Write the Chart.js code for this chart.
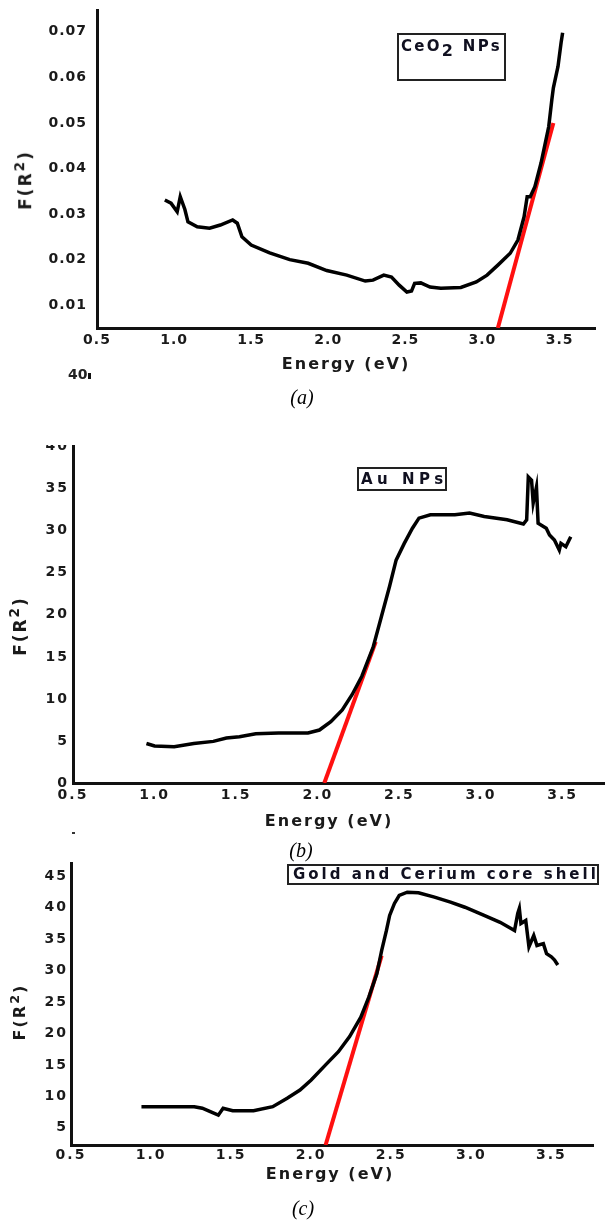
<!DOCTYPE html>
<html>
<head>
<meta charset="utf-8">
<script src="https://cdn.jsdelivr.net/npm/chart.js@4/dist/chart.umd.min.js"></script>
<style>
  body { margin: 0; background: #fff; width: 605px; height: 1221px; position: relative; overflow: hidden; font-family: "DejaVu Sans", sans-serif; }
  canvas { position: absolute; left: 0; }
  .ytitle, .xtitle, .box, .cap, .stray { position: absolute; white-space: nowrap; }
  .ytitle { font-weight: bold; font-size: 17px; letter-spacing: 2px; color: #1a1a1a; transform: translate(-50%, -50%) rotate(-90deg); }
  .ytitle sup { font-size: 80%; }
  .xtitle { font-weight: bold; font-size: 16px; letter-spacing: 2px; color: #1a1a1a; transform: translate(-50%, -50%); }
  .box { border: 2px solid #222; box-sizing: border-box; font-weight: bold; color: #101020; }
  .cap { font-family: "Liberation Serif", serif; font-style: italic; font-size: 20px; transform: translate(-50%, -50%); }
</style>
</head>
<body>
<canvas id="chart-a" width="605" height="350" style="top:9px"></canvas>
<canvas id="chart-b" width="605" height="370" style="top:445px"></canvas>
<canvas id="chart-c" width="605" height="310" style="top:862px"></canvas>

<div class="ytitle" style="left:23px; top:180px">F(R<sup>2</sup>)</div>
<div class="xtitle" style="left:346px; top:363px">Energy (eV)</div>
<div class="box" style="left:397px; top:33px; width:109px; height:48px; font-size:15px; letter-spacing:2.3px; padding:1px 0 0 2px">CeO<span style="font-size:16px; position:relative; top:5px">2</span> NPs</div>
<div class="stray" style="left:68px; top:366px; font-weight:bold; font-size:14px; color:#222">40<span style="display:inline-block; width:3px; height:6px; background:#111; margin-left:1px"></span></div>
<div class="cap" style="left:302px; top:397px">(a)</div>

<div class="ytitle" style="left:18px; top:626px">F(R<sup>2</sup>)</div>
<div class="xtitle" style="left:329px; top:820px">Energy (eV)</div>
<div class="box" style="left:357px; top:467px; width:90px; height:24px; font-size:15px; letter-spacing:4.5px; padding:1px 0 0 2px">Au NPs</div>
<div class="stray" style="left:72px; top:832px; width:3px; height:2px; background:#333"></div>
<div class="cap" style="left:301px; top:850px">(b)</div>

<div class="ytitle" style="left:18px; top:1012px; font-size:16px">F(R<sup>2</sup>)</div>
<div class="xtitle" style="left:330px; top:1173px">Energy (eV)</div>
<div class="box" style="left:287px; top:864px; width:312px; height:21px; font-size:15px; letter-spacing:3px; padding:0 0 0 4px; line-height:17px">Gold and Cerium core shell</div>
<div class="cap" style="left:303px; top:1208px">(c)</div>

<script>
// shared tick positions
const energyTicks = [0.5, 1.0, 1.5, 2.0, 2.5, 3.0, 3.5];

// (a) CeO2 NPs
const energyA = [0.94, 0.98, 1.02, 1.04, 1.07, 1.09, 1.15, 1.23, 1.30, 1.38, 1.41, 1.44, 1.50, 1.62, 1.75, 1.87, 1.99, 2.12, 2.24, 2.29, 2.36, 2.41, 2.46, 2.51, 2.54, 2.56, 2.60, 2.66, 2.73, 2.86, 2.96, 3.03, 3.10, 3.18, 3.23, 3.27, 3.29, 3.31, 3.34, 3.38, 3.43, 3.45, 3.46, 3.49, 3.51, 3.52];
const fA = [0.0331, 0.0324, 0.0305, 0.0338, 0.0310, 0.0283, 0.0272, 0.0269, 0.0276, 0.0287, 0.0280, 0.0250, 0.0232, 0.0215, 0.0200, 0.0192, 0.0176, 0.0166, 0.0153, 0.0155, 0.0166, 0.0162, 0.0144, 0.0129, 0.0131, 0.0148, 0.0149, 0.0140, 0.0137, 0.0139, 0.0151, 0.0166, 0.0188, 0.0214, 0.0243, 0.0294, 0.0338, 0.0338, 0.0360, 0.0412, 0.0492, 0.0551, 0.0577, 0.0624, 0.0676, 0.0698];
const fitEnergyA = [3.10, 3.46];
const fitA = [0.005, 0.050];
const yTicksA = [0.01, 0.02, 0.03, 0.04, 0.05, 0.06, 0.07];

// (b) Au NPs
const energyB = [0.95, 1.00, 1.12, 1.24, 1.36, 1.44, 1.52, 1.62, 1.76, 1.94, 2.01, 2.08, 2.15, 2.21, 2.27, 2.34, 2.39, 2.44, 2.48, 2.53, 2.58, 2.62, 2.69, 2.84, 2.93, 3.02, 3.16, 3.26, 3.28, 3.29, 3.31, 3.32, 3.34, 3.35, 3.40, 3.42, 3.45, 3.48, 3.49, 3.52, 3.55];
const fB = [4.7, 4.4, 4.3, 4.7, 4.95, 5.35, 5.5, 5.85, 5.95, 5.95, 6.3, 7.3, 8.7, 10.5, 12.7, 16.2, 19.8, 23.4, 26.5, 28.5, 30.3, 31.5, 31.9, 31.9, 32.1, 31.7, 31.3, 30.8, 31.3, 36.4, 36.0, 33.3, 35.2, 30.9, 30.3, 29.5, 28.9, 27.7, 28.5, 28.1, 29.3];
const fitEnergyB = [2.04, 2.355];
const fitB = [0, 16.8];
const yTicksB = [0, 5, 10, 15, 20, 25, 30, 35, 40];

// (c) Gold and Cerium core shell
const energyC = [0.94, 1.03, 1.15, 1.27, 1.32, 1.37, 1.42, 1.45, 1.51, 1.64, 1.76, 1.85, 1.93, 2.00, 2.09, 2.17, 2.24, 2.31, 2.36, 2.41, 2.44, 2.47, 2.49, 2.52, 2.55, 2.60, 2.67, 2.77, 2.87, 2.96, 3.08, 3.18, 3.27, 3.29, 3.30, 3.31, 3.34, 3.36, 3.39, 3.41, 3.45, 3.47, 3.50, 3.52, 3.54];
const fC = [8.35, 8.35, 8.35, 8.35, 8.1, 7.55, 7.0, 8.1, 7.7, 7.7, 8.35, 9.7, 11.0, 12.6, 15.0, 17.1, 19.5, 22.6, 25.8, 29.5, 33.2, 36.4, 38.8, 40.7, 42.0, 42.5, 42.4, 41.7, 40.9, 40.1, 38.8, 37.7, 36.4, 39.1, 39.9, 37.5, 38.0, 33.8, 35.6, 34.0, 34.3, 32.7, 32.2, 31.7, 30.9];
const fitEnergyC = [2.09, 2.44];
const fitC = [2.25, 32.4];
const yTicksC = [5, 10, 15, 20, 25, 30, 35, 40, 45];

function toPoints(xs, ys) {
    return xs.map((x, i) => ({ x: x, y: ys[i] }));
}

function createPanel(id, p) {
    const ctx = document.getElementById(id);
    const tickFont = { family: 'DejaVu Sans', weight: 'bold', size: p.tickSize };
    // canvas letter spacing for the wide tick labels
    const spacing = { id: 'spacing', beforeDraw: (chart) => { chart.ctx.letterSpacing = p.spacing; } };
    return new Chart(ctx, {
        type: 'line',
        data: {
            datasets: [
                { data: toPoints(p.energy, p.f), borderColor: '#000', borderWidth: 3.5, pointRadius: 0, tension: 0 },
                { data: toPoints(p.fitEnergy, p.fit), borderColor: '#ff1010', borderWidth: 4, pointRadius: 0 }
            ]
        },
        options: {
            responsive: false, animation: false, devicePixelRatio: 1,
            layout: { padding: { top: 0, left: 0, bottom: 0, right: p.padRight } },
            plugins: { legend: { display: false }, tooltip: { enabled: false } },
            scales: {
                x: {
                    type: 'linear', min: 0.5, max: p.xMax,
                    grid: { display: false, drawTicks: false },
                    border: { color: '#111', width: 3 },
                    ticks: { autoSkip: false, padding: p.xPad, color: '#1a1a1a', font: tickFont, maxRotation: 0, callback: (v) => v.toFixed(1) },
                    afterBuildTicks: (axis) => { axis.ticks = energyTicks.map(v => ({ value: v })); },
                    afterFit: (axis) => { axis.height = ctx.height - p.areaHeight; axis.paddingLeft = 0; axis.paddingRight = 0; }
                },
                y: {
                    type: 'linear', min: p.yMin, max: p.yMax,
                    grid: { display: false, drawTicks: false },
                    border: { color: '#111', width: 3 },
                    ticks: { autoSkip: false, padding: p.yPad, color: '#1a1a1a', font: tickFont, callback: p.fmt },
                    afterBuildTicks: (axis) => { axis.ticks = p.yTicks.map(v => ({ value: v })); },
                    afterFit: (axis) => { axis.width = p.left; axis.paddingTop = 0; axis.paddingBottom = 0; }
                }
            }
        },
        plugins: [spacing]
    });
}

createPanel('chart-a', {
    energy: energyA, f: fA, fitEnergy: fitEnergyA, fit: fitA, yTicks: yTicksA,
    xMax: 3.73, yMin: 0.005, yMax: 0.075, left: 97, padRight: 10, areaHeight: 319,
    tickSize: 14, spacing: '1px', xPad: 4, yPad: 10, fmt: (v) => v.toFixed(2)
});
createPanel('chart-b', {
    energy: energyB, f: fB, fitEnergy: fitEnergyB, fit: fitB, yTicks: yTicksB,
    xMax: 3.76, yMin: 0, yMax: 40.2, left: 73, padRight: 0, areaHeight: 338,
    tickSize: 14, spacing: '2px', xPad: 4, yPad: 4, fmt: (v) => String(v)
});
createPanel('chart-c', {
    energy: energyC, f: fC, fitEnergy: fitEnergyC, fit: fitC, yTicks: yTicksC,
    xMax: 3.76, yMin: 2.25, yMax: 47.3, left: 71, padRight: 12, areaHeight: 283,
    tickSize: 14, spacing: '2px', xPad: 2, yPad: 3, fmt: (v) => String(v)
});
</script>
</body>
</html>
